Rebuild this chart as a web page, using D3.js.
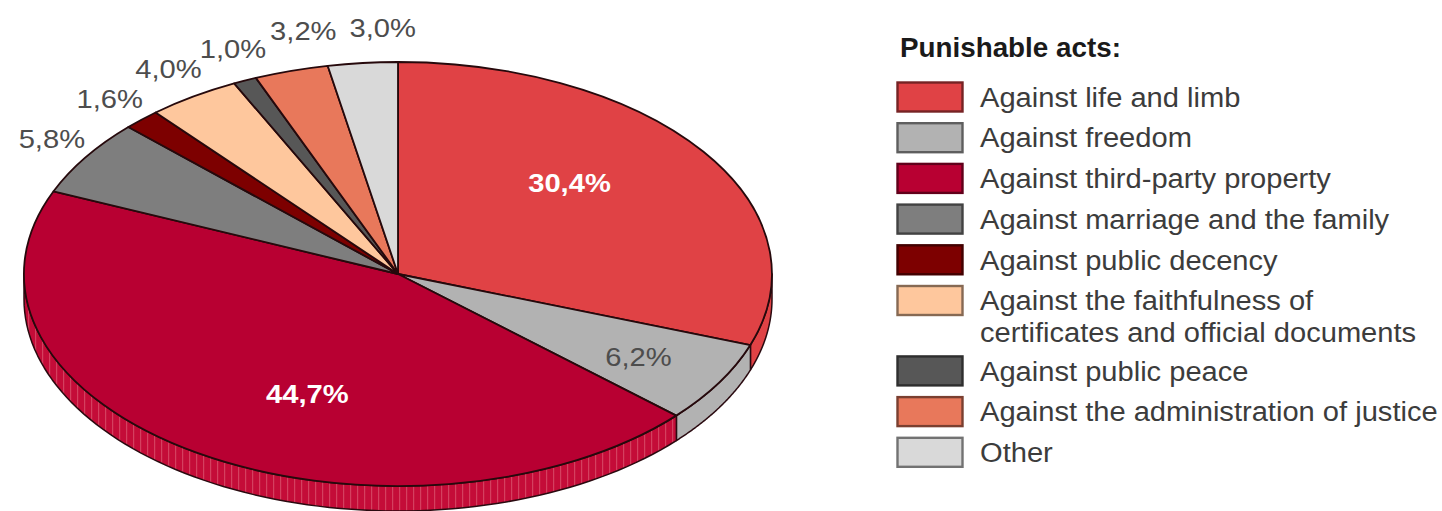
<!DOCTYPE html>
<html>
<head>
<meta charset="utf-8">
<script src="https://cdn.jsdelivr.net/npm/d3@7"></script>
<style>
  html, body { margin: 0; padding: 0; background: #fff; }
  svg { display: block; }
  text { font-family: "Liberation Sans", Arial, sans-serif; }
</style>
</head>
<body>
<div id="chart"></div>
<script>
const categories = [
  "Against life and limb",
  "Against freedom",
  "Against third-party property",
  "Against marriage and the family",
  "Against public decency",
  "Against the faithfulness of\ncertificates and official documents",
  "Against public peace",
  "Against the administration of justice",
  "Other",
];
const shares = [30.4, 6.2, 44.7, 5.8, 1.6, 4.0, 1.0, 3.2, 3.0];
const shareLabels = ["30,4%", "6,2%", "44,7%", "5,8%", "1,6%", "4,0%", "1,0%", "3,2%", "3,0%"];
const sliceColors = ["#e04245", "#b2b2b2", "#b80032", "#7e7e7e", "#7d0000", "#fec79d", "#575757", "#e8785b", "#d9d9d9"];
const legendTitle = "Punishable acts:";

const width = 1442;
const height = 511;
const cx = 398;
const cy = 274;
const rx = 374;
const ry = 212;
const depth = 25;

const svg = d3.select("#chart").append("svg").attr("width", width).attr("height", height);

// Vertical ribs on the big slice's rim, as in the print.
const defs = svg.append("defs");
const rib = defs.append("pattern")
  .attr("id", "rim-ribs")
  .attr("patternUnits", "userSpaceOnUse")
  .attr("width", 7)
  .attr("height", 10);
rib.append("rect").attr("width", 7).attr("height", 10).attr("fill", "#c40c38");
rib.append("rect").attr("width", 1.2).attr("height", 10).attr("fill", "#d4405f");

const slices = d3.pie().sort(null).value((d) => d)(shares);

const ellipseX = (a) => cx + rx * Math.sin(a);
const ellipseY = (a) => cy - ry * Math.cos(a);

// Rim first: only the front half of the ellipse shows.
const frontStart = Math.PI / 2;
const frontEnd = (3 * Math.PI) / 2;
const rimArea = d3.area()
  .x((a) => ellipseX(a))
  .y0((a) => ellipseY(a))
  .y1((a) => ellipseY(a) + depth);

const rimSlices = slices
  .map((s, i) => ({
    i,
    start: Math.max(s.startAngle, frontStart),
    end: Math.min(s.endAngle, frontEnd),
  }))
  .filter((s) => s.end > s.start);

svg.append("g")
  .selectAll("path")
  .data(rimSlices)
  .enter()
  .append("path")
  .attr("d", (s) => {
    const steps = d3.range(0, 81).map((k) => s.start + ((s.end - s.start) * k) / 80);
    return rimArea(steps);
  })
  .attr("fill", (s) => (s.i === 2 ? "url(#rim-ribs)" : sliceColors[s.i]))
  .attr("stroke", "#2a0a10")
  .attr("stroke-width", 1.5)
  .attr("stroke-linejoin", "round");

// Top face: unit pie squashed to the ellipse.
const arc = d3.arc().innerRadius(0).outerRadius(1);

svg.append("g")
  .attr("transform", `translate(${cx},${cy}) scale(${rx},${ry})`)
  .selectAll("path")
  .data(slices)
  .enter()
  .append("path")
  .attr("d", arc)
  .attr("fill", (d, i) => sliceColors[i])
  .attr("stroke", "#26090c")
  .attr("stroke-width", 1.8)
  .attr("stroke-linejoin", "round")
  .attr("vector-effect", "non-scaling-stroke");

// Label offsets from the middle of each slice's outer edge, placed by hand in the original.
const labelOffsets = [[-134, 31], [-81, -26], [110, -59], [-34, -19], [-32, -21], [-25, -28], [-12, -32], [12, -40], [20, -35]];
// The printed type is a little wider than the font, so it gets stretched sideways.
const pieTextStretch = 1.1;
const legendTextStretch = 1.078;

svg.append("g")
  .selectAll("text")
  .data(slices)
  .enter()
  .append("text")
  .attr("transform", (d, i) => {
    const mid = (d.startAngle + d.endAngle) / 2;
    return `translate(${ellipseX(mid) + labelOffsets[i][0]},${ellipseY(mid) + labelOffsets[i][1]}) scale(${pieTextStretch},1)`;
  })
  .attr("dy", "0.36em")
  .attr("text-anchor", "middle")
  .attr("font-size", 26.5)
  .attr("font-weight", (d, i) => (i === 0 || i === 2 ? 700 : 400))
  .attr("fill", (d, i) => (i === 0 || i === 2 ? "#fff" : "#4d4d4d"))
  .text((d, i) => shareLabels[i]);

// Legend: the two-line entry takes 1.73 rows.
let rowCursor = 0;
const legendRows = categories.map((label, i) => {
  const lines = label.split("\n");
  const row = { label, lines, i, row: rowCursor };
  rowCursor += lines.length > 1 ? 1.73 : 1;
  return row;
});
const rowY = d3.scaleLinear().domain([0, 1]).range([97, 137.7]);

const legend = svg.append("g");

legend.append("text")
  .attr("x", 900)
  .attr("y", 57)
  .attr("font-size", 27.8)
  .attr("font-weight", 700)
  .attr("fill", "#1a1a1a")
  .text(legendTitle);

const rows = legend.selectAll("g.row").data(legendRows).enter().append("g").attr("class", "row");

rows.append("rect")
  .attr("x", 897.5)
  .attr("y", (d) => rowY(d.row) - 14.5)
  .attr("width", 65)
  .attr("height", 29)
  .attr("fill", (d) => sliceColors[d.i])
  .attr("stroke", (d) => d3.color(sliceColors[d.i]).darker(1.8))
  .attr("stroke-width", 2.4);

rows.each(function (d) {
  d.lines.forEach((line, k) => {
    d3.select(this)
      .append("text")
      .attr("transform", `translate(980,${rowY(d.row) + k * 32}) scale(${legendTextStretch},1)`)
      .attr("dy", "0.36em")
      .attr("font-size", 27)
      .attr("fill", "#3c3c3c")
      .text(line);
  });
});
</script>
</body>
</html>
